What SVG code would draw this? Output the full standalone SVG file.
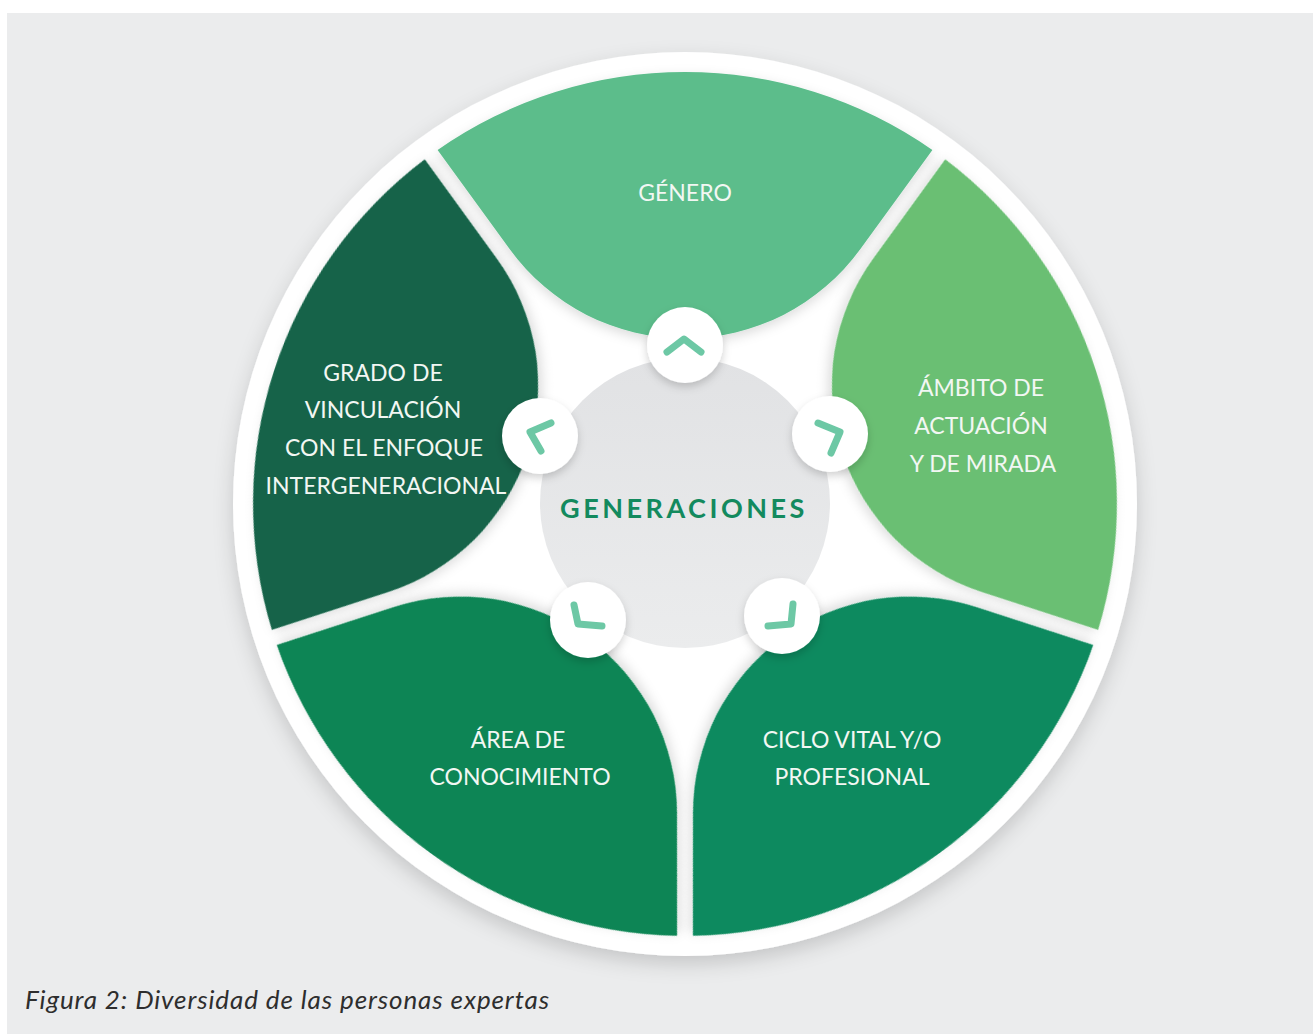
<svg xmlns="http://www.w3.org/2000/svg" width="1313" height="1034" viewBox="0 0 1313 1034">
  <defs>
    <style>
      .lbl { font-family: Lato, "Liberation Sans", sans-serif; font-size: 23px; fill: #f2f7f3; text-anchor: middle; }
      .chev { fill: none; stroke: #6dc8a5; stroke-width: 7; stroke-linecap: round; stroke-linejoin: round; }
      .knob { fill: #ffffff; filter: url(#knobShadow); }
      .petal { filter: url(#petalShadow); }
    </style>
    <filter id="diskShadow" x="-10%" y="-10%" width="120%" height="125%">
      <feDropShadow dx="0" dy="8" stdDeviation="10" flood-color="#000" flood-opacity="0.16"/>
    </filter>
    <filter id="petalShadow" x="-20%" y="-20%" width="140%" height="140%">
      <feDropShadow dx="0" dy="4" stdDeviation="6" flood-color="#000" flood-opacity="0.14"/>
    </filter>
    <filter id="knobShadow" x="-40%" y="-40%" width="180%" height="180%">
      <feDropShadow dx="0" dy="4" stdDeviation="4" flood-color="#000" flood-opacity="0.18"/>
    </filter>
    <linearGradient id="hubGrad" x1="0" y1="0" x2="0" y2="1">
      <stop offset="0" stop-color="#e1e2e4"/>
      <stop offset="1" stop-color="#ebeced"/>
    </linearGradient>
    <path id="petalShape" d="M437.6,149.9 A432,432 0 0,1 932.4,149.9 L860.2,249.2 A216.5,216.5 0 0,1 509.8,249.2 Z"/>
  </defs>

  <rect x="0" y="0" width="1313" height="1034" fill="#ffffff"/>
  <rect x="7" y="13" width="1306" height="1021" fill="#ebeced"/>

  <circle id="disk" cx="685" cy="504" r="452" fill="#ffffff" filter="url(#diskShadow)"/>

  <g id="genero">
    <use href="#petalShape" class="petal" fill="#5bbd8b"/>
    <text class="lbl" x="685" y="201">GÉNERO</text>
  </g>
  <g id="ambito">
    <use href="#petalShape" class="petal" fill="#6abf73" transform="rotate(72 685 504)"/>
    <text class="lbl" x="981" y="396">ÁMBITO DE</text>
    <text class="lbl" x="981" y="434">ACTUACIÓN</text>
    <text class="lbl" x="983" y="472">Y DE MIRADA</text>
  </g>
  <g id="ciclo">
    <use href="#petalShape" class="petal" fill="#0f8a5e" transform="rotate(144 685 504)"/>
    <text class="lbl" x="852" y="748">CICLO VITAL Y/O</text>
    <text class="lbl" x="852" y="785">PROFESIONAL</text>
  </g>
  <g id="area">
    <use href="#petalShape" class="petal" fill="#0f8554" transform="rotate(216 685 504)"/>
    <text class="lbl" x="518" y="748">ÁREA DE</text>
    <text class="lbl" x="520" y="785">CONOCIMIENTO</text>
  </g>
  <g id="grado">
    <use href="#petalShape" class="petal" fill="#146448" transform="rotate(288 685 504)"/>
    <text class="lbl" x="383" y="381">GRADO DE</text>
    <text class="lbl" x="383" y="418">VINCULACIÓN</text>
    <text class="lbl" x="384" y="456">CON EL ENFOQUE</text>
    <text class="lbl" x="386" y="494">INTERGENERACIONAL</text>
  </g>

  <g id="generaciones">
    <circle cx="685" cy="503" r="145" fill="url(#hubGrad)"/>
    <text x="684" y="518" font-family="Lato, 'Liberation Sans', sans-serif" font-size="27" font-weight="700" letter-spacing="3.5" fill="#138a5e" text-anchor="middle">GENERACIONES</text>
  </g>

  <g id="connectors">
    <circle class="knob" cx="685" cy="345" r="38"/>
    <polyline class="chev" points="667,352 684,339 701,352"/>
    <circle class="knob" cx="830" cy="434" r="38"/>
    <polyline class="chev" points="818,423 840,432 831,453"/>
    <circle class="knob" cx="782" cy="616" r="38"/>
    <polyline class="chev" points="793,604 791,624 768,626"/>
    <circle class="knob" cx="588" cy="620" r="38"/>
    <polyline class="chev" points="574,605 578,624 602,626"/>
    <circle class="knob" cx="540" cy="436" r="38"/>
    <polyline class="chev" points="551,423 530,432 541,451"/>
  </g>

  <text id="caption" x="25" y="1009" font-family="Lato, 'Liberation Sans', sans-serif" font-size="26" font-style="italic" letter-spacing="0.9" fill="#2e2e2e">Figura 2: Diversidad de las personas expertas</text>
</svg>
